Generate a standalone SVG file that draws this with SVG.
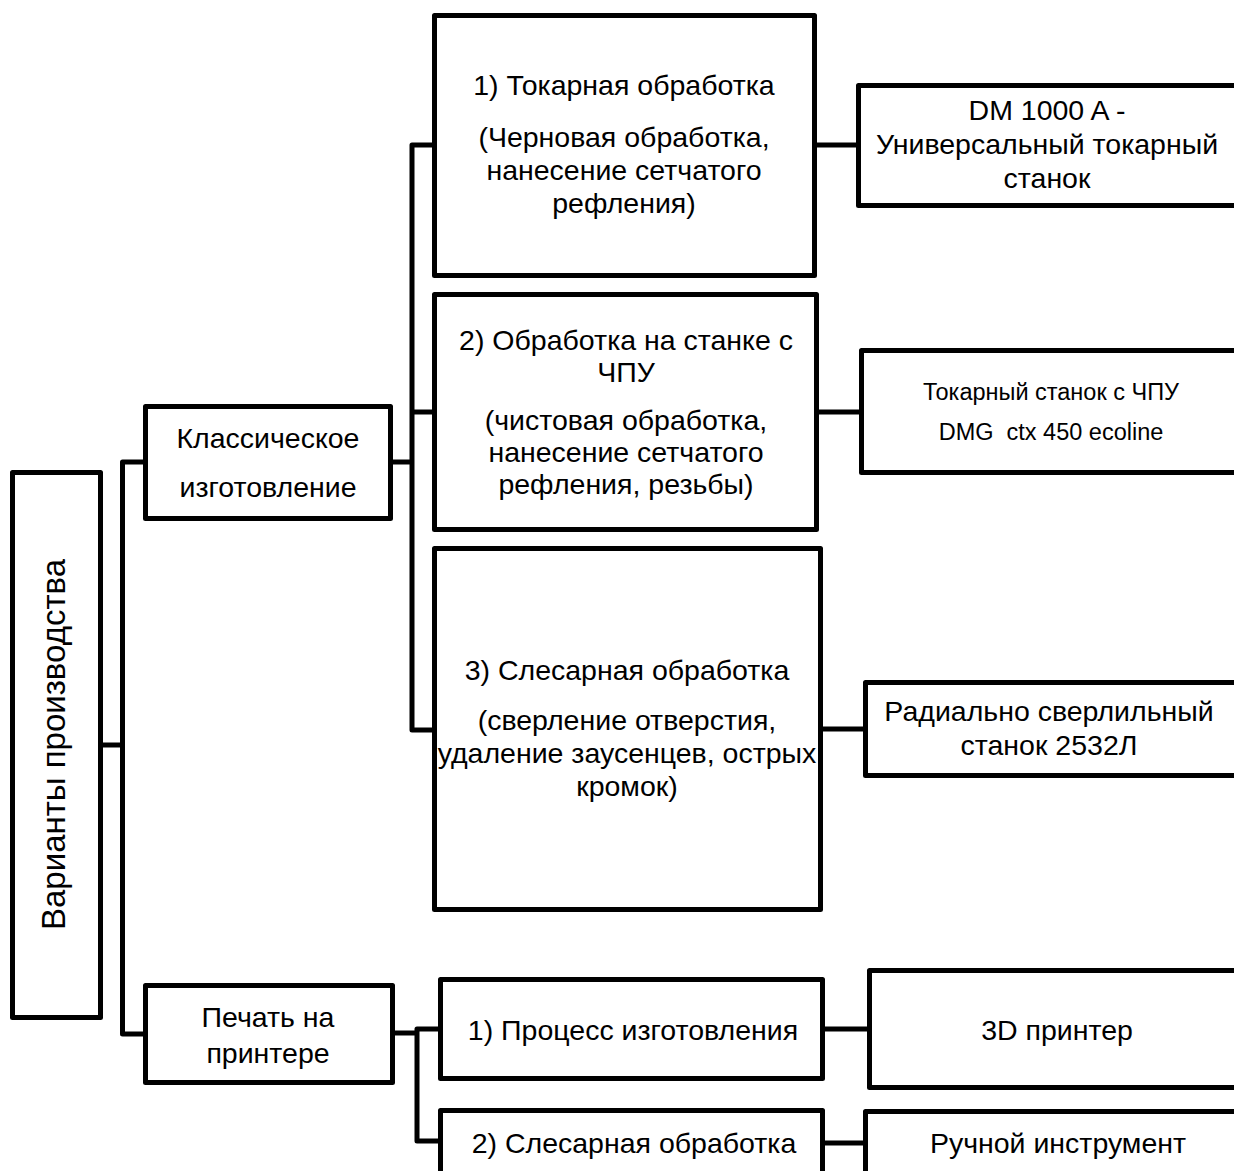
<svg xmlns="http://www.w3.org/2000/svg" width="1234" height="1171" viewBox="0 0 1234 1171">
<style>
.box{fill:#fff;stroke:#000;stroke-width:5;stroke-linejoin:round}
.con{fill:none;stroke:#000;stroke-width:5;stroke-linejoin:round}
text{font-family:"Liberation Sans",Arial,sans-serif;font-size:28.5px;fill:#000;text-anchor:middle}
.sm{font-size:23.5px}
.root{font-size:33px}
</style>
<rect width="1234" height="1171" fill="#fff"/>
<g id="connectors">
<path class="con" d="M103,745 H122.5"/>
<path class="con" d="M145,462 H122.5 V1034 H145"/>
<path class="con" d="M393,462 H412"/>
<path class="con" d="M432,145 H412 V730 H432"/>
<path class="con" d="M412,412 H432"/>
<path class="con" d="M817,145 H856"/>
<path class="con" d="M819,412 H859"/>
<path class="con" d="M823,729 H863"/>
<path class="con" d="M395,1033 H417"/>
<path class="con" d="M438,1029 H417 V1141 H440"/>
<path class="con" d="M825,1029 H867"/>
<path class="con" d="M825,1143 H863"/>
</g>
<g id="root">
<rect class="box" x="12.5" y="472.5" width="88" height="545"/>
<text class="root" transform="translate(65,744.5) rotate(-90)">Варианты производства</text>
</g>
<g id="classic">
<rect class="box" x="145.5" y="406.5" width="245" height="112"/>
<text x="268" y="448">Классическое</text>
<text x="268" y="497">изготовление</text>
</g>
<g id="print">
<rect class="box" x="145.5" y="985.5" width="247" height="97"/>
<text x="268" y="1027">Печать на</text>
<text x="268" y="1063">принтере</text>
</g>
<g id="turning">
<rect class="box" x="434.5" y="15.5" width="380" height="260"/>
<text x="624" y="95">1) Токарная обработка</text>
<text x="624" y="147">(Черновая обработка,</text>
<text x="624" y="180">нанесение сетчатого</text>
<text x="624" y="213">рефления)</text>
</g>
<g id="cnc">
<rect class="box" x="434.5" y="294.5" width="382" height="235"/>
<text x="626" y="350">2) Обработка на станке с</text>
<text x="626" y="382">ЧПУ</text>
<text x="626" y="430">(чистовая обработка,</text>
<text x="626" y="462">нанесение сетчатого</text>
<text x="626" y="494">рефления, резьбы)</text>
</g>
<g id="fitting">
<rect class="box" x="434.5" y="548.5" width="386" height="361"/>
<text x="627" y="680">3) Слесарная обработка</text>
<text x="627" y="730">(сверление отверстия,</text>
<text x="627" y="763">удаление заусенцев, острых</text>
<text x="627" y="796">кромок)</text>
</g>
<g id="process">
<rect class="box" x="440.5" y="979.5" width="382" height="99"/>
<text x="633" y="1040">1) Процесс изготовления</text>
</g>
<g id="fitting2">
<rect class="box" x="440.5" y="1110.5" width="382" height="90"/>
<text x="634" y="1153">2) Слесарная обработка</text>
</g>
<g id="dm1000">
<rect class="box" x="858.5" y="85.5" width="400" height="120"/>
<text x="1047" y="120">DM 1000 A -</text>
<text x="1047" y="154">Универсальный токарный</text>
<text x="1047" y="188">станок</text>
</g>
<g id="dmg">
<rect class="box" x="861.5" y="350.5" width="400" height="122"/>
<text class="sm" x="1051" y="400">Токарный станок с ЧПУ</text>
<text class="sm" x="1051" y="440">DMG&#160; ctx 450 ecoline</text>
</g>
<g id="radial">
<rect class="box" x="865.5" y="682.5" width="400" height="93"/>
<text x="1049" y="721">Радиально сверлильный</text>
<text x="1049" y="755">станок 2532Л</text>
</g>
<g id="printer3d">
<rect class="box" x="869.5" y="970.5" width="400" height="117"/>
<text x="1057" y="1040">3D принтер</text>
</g>
<g id="handtool">
<rect class="box" x="865.5" y="1111.5" width="400" height="90"/>
<text x="1058" y="1153">Ручной инструмент</text>
</g>
</svg>
